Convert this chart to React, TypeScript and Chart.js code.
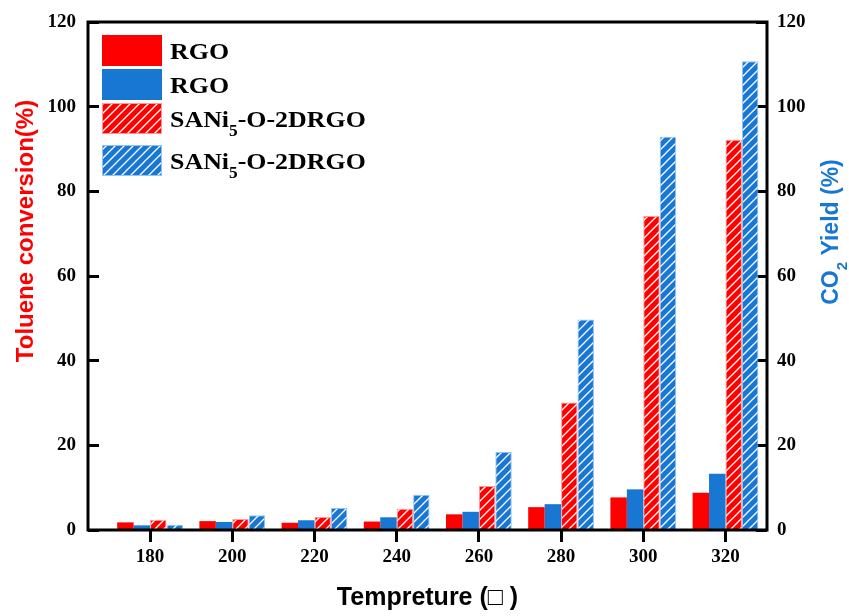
import React, { useEffect, useRef } from 'react';
import { Chart, registerables } from 'chart.js';

Chart.register(...registerables);

// ---- data ----
const temperatures = [180, 200, 220, 240, 260, 280, 300, 320];
const rgoToluene = [1.8, 2.1, 1.7, 2.0, 3.7, 5.4, 7.7, 8.8];
const rgoCO2 = [1.1, 1.9, 2.3, 3.0, 4.3, 6.1, 9.6, 13.3];
const saniToluene = [2.4, 2.6, 3.1, 5.0, 10.4, 30.1, 74.2, 92.2];
const saniCO2 = [1.25, 3.5, 5.2, 8.3, 18.4, 49.7, 92.9, 110.7];
const yTicks = [0, 20, 40, 60, 80, 100, 120];
const seriesLabels = ['RGO', 'RGO', 'SANi₅-O-2DRGO', 'SANi₅-O-2DRGO'];
const xTitle = 'Tempreture (\u25A1 )';
const yLeftTitle = 'Toluene conversion(%)';
const yRightTitle = 'CO₂ Yield (%)';

const RED = '#ff0000';
const BLUE = '#1777d3';
const SERIF = '"Liberation Serif", "Times New Roman", serif';
const SANS = '"Liberation Sans", Arial, sans-serif';

const SUBS: Record<string, string> = {
  '₀': '0', '₁': '1', '₂': '2', '₃': '3', '₄': '4', '₅': '5', '₆': '6', '₇': '7', '₈': '8', '₉': '9',
};

function splitRuns(text: string) {
  const runs: { t: string; sub: boolean }[] = [];
  for (const ch of text) {
    const sub = ch in SUBS;
    const c = sub ? SUBS[ch] : ch;
    const last = runs[runs.length - 1];
    if (last && last.sub === sub) last.t += c;
    else runs.push({ t: c, sub });
  }
  return runs;
}

function richWidth(ctx: CanvasRenderingContext2D, text: string, size: number, family: string) {
  let w = 0;
  for (const r of splitRuns(text)) {
    ctx.font = `bold ${r.sub ? Math.round(size * 0.66) : size}px ${family}`;
    w += ctx.measureText(r.t).width;
  }
  return w;
}

function drawRich(ctx: CanvasRenderingContext2D, text: string, x: number, baseline: number, size: number, family: string) {
  ctx.textBaseline = 'alphabetic';
  ctx.textAlign = 'left';
  let cx = x;
  for (const r of splitRuns(text)) {
    const s = r.sub ? Math.round(size * 0.66) : size;
    ctx.font = `bold ${s}px ${family}`;
    ctx.fillText(r.t, cx, baseline + (r.sub ? size * 0.36 : 0));
    cx += ctx.measureText(r.t).width;
  }
}

function makeHatch(ctx: CanvasRenderingContext2D, color: string) {
  const size = 9;
  const c = document.createElement('canvas');
  c.width = size;
  c.height = size;
  const g = c.getContext('2d')!;
  g.fillStyle = color;
  g.fillRect(0, 0, size, size);
  g.strokeStyle = '#ffffff';
  g.lineWidth = 1.3;
  g.beginPath();
  g.moveTo(-1, size + 1);
  g.lineTo(size + 1, -1);
  g.moveTo(-size / 2 - 1, size / 2 + 1);
  g.lineTo(size / 2 + 1, -size / 2 - 1);
  g.moveTo(size / 2 - 1, size * 1.5 + 1);
  g.lineTo(size * 1.5 + 1, size / 2 - 1);
  g.stroke();
  return ctx.createPattern(c, 'repeat')!;
}

const decorPlugin = {
  id: 'decor',
  afterDraw(chart: any) {
    const { ctx, chartArea } = chart;
    ctx.save();
    // frame
    ctx.strokeStyle = '#000';
    ctx.lineWidth = 3;
    ctx.strokeRect(chartArea.left, chartArea.top, chartArea.right - chartArea.left, chartArea.bottom - chartArea.top);

    // legend
    const boxX = chartArea.left + 14;
    let top = chartArea.top + 13;
    chart.data.datasets.forEach((ds: any) => {
      const boxW = 60;
      const boxH = 31;
      ctx.fillStyle = ds.backgroundColor;
      ctx.fillRect(boxX, top, boxW, boxH);
      if (ds.borderWidth) {
        ctx.strokeStyle = ds.borderColor;
        ctx.lineWidth = 1;
        ctx.strokeRect(boxX + 0.5, top + 0.5, boxW - 1, boxH - 1);
      }
      ctx.fillStyle = '#000';
      ctx.save();
      ctx.translate(boxX + boxW + 8, top + boxH / 2 + 8.7);
      ctx.scale(1.08, 1);
      drawRich(ctx, ds.label, 0, 0, 24, SERIF);
      ctx.restore();
      const hasSub = splitRuns(ds.label).some((r) => r.sub);
      top += 34 + (hasSub ? 8 : 0);
    });

    // y titles (rotated)
    const drawVTitle = (text: string, cx: number, cy: number, color: string, size: number) => {
      ctx.save();
      ctx.translate(cx, cy);
      ctx.rotate(-Math.PI / 2);
      ctx.fillStyle = color;
      const w = richWidth(ctx, text, size, SANS);
      drawRich(ctx, text, -w / 2, size * 0.36, size, SANS);
      ctx.restore();
    };
    drawVTitle(yLeftTitle, 24, 231, RED, 24);
    drawVTitle(yRightTitle, 830, 232, BLUE, 23);
    ctx.restore();
  },
};

export default function App() {
  const ref = useRef<HTMLCanvasElement | null>(null);

  useEffect(() => {
    const canvas = ref.current!;
    const ctx = canvas.getContext('2d')!;
    const redHatch = makeHatch(ctx, RED);
    const blueHatch = makeHatch(ctx, BLUE);
    const toPts = (vals: number[]) => temperatures.map((t, i) => ({ x: t, y: vals[i] }));

    const tickFont = { family: SERIF, size: 19, weight: 'bold' as const };

    const fitY = (w: number) => (s: any) => {
      s.width = w;
      s.paddingTop = 0;
      s.paddingBottom = 0;
    };

    const chart = new Chart(canvas, {
      type: 'bar',
      data: {
        datasets: [
          { label: seriesLabels[0], data: toPts(rgoToluene), backgroundColor: RED, borderWidth: 0, yAxisID: 'y' },
          { label: seriesLabels[1], data: toPts(rgoCO2), backgroundColor: BLUE, borderWidth: 0, yAxisID: 'y1' },
          { label: seriesLabels[2], data: toPts(saniToluene), backgroundColor: redHatch, borderColor: '#ff9a9a', borderWidth: 1, yAxisID: 'y' },
          { label: seriesLabels[3], data: toPts(saniCO2), backgroundColor: blueHatch, borderColor: '#93c3ef', borderWidth: 1, yAxisID: 'y1' },
        ] as any,
      },
      options: {
        animation: false,
        responsive: false,
        layout: { padding: { top: 22, left: 0, right: 0, bottom: 0 } },
        datasets: { bar: { categoryPercentage: 0.8, barPercentage: 1 } } as any,
        plugins: { legend: { display: false }, tooltip: { enabled: false } },
        scales: {
          x: {
            type: 'linear',
            position: 'bottom',
            min: 164.9,
            max: 330.1,
            offset: false,
            z: 1,
            afterBuildTicks: (s: any) => {
              s.ticks = temperatures.map((v) => ({ value: v }));
            },
            afterFit: (s: any) => {
              s.height = 86;
              s.paddingLeft = 0;
              s.paddingRight = 0;
            },
            grid: { display: true, offset: false, drawOnChartArea: false, drawTicks: true, tickLength: 12, tickWidth: 3, tickColor: '#000' },
            border: { display: false },
            ticks: { padding: 4, color: '#000', font: tickFont, maxRotation: 0, autoSkip: false },
            title: {
              display: true,
              text: xTitle,
              color: '#000',
              font: { family: SANS, size: 25, weight: 'bold' },
              padding: { top: 0, bottom: 3 },
            },
          } as any,
          y: {
            type: 'linear',
            position: 'left',
            min: 0,
            max: 120,
            z: 1,
            afterBuildTicks: (s: any) => {
              s.ticks = yTicks.map((v) => ({ value: v }));
            },
            afterFit: fitY(88),
            grid: { display: true, drawOnChartArea: false, drawTicks: true, tickLength: -11, tickWidth: 3, tickColor: '#000' },
            border: { display: false },
            ticks: { padding: 23, color: '#000', font: tickFont },
            title: { display: false },
          } as any,
          y1: {
            type: 'linear',
            position: 'right',
            min: 0,
            max: 120,
            z: 1,
            afterBuildTicks: (s: any) => {
              s.ticks = yTicks.map((v) => ({ value: v }));
            },
            afterFit: fitY(82),
            grid: { display: true, drawOnChartArea: false, drawTicks: true, tickLength: -11, tickWidth: 3, tickColor: '#000' },
            border: { display: false },
            ticks: { padding: 21, color: '#000', font: tickFont },
            title: { display: false },
          } as any,
        },
      },
      plugins: [decorPlugin],
    });

    return () => chart.destroy();
  }, []);

  return (
    <div style={{ position: 'absolute', left: 0, top: 0, width: 849, height: 616, background: '#fff' }}>
      <canvas ref={ref} width={849} height={616} style={{ display: 'block', width: 849, height: 616 }} />
    </div>
  );
}
